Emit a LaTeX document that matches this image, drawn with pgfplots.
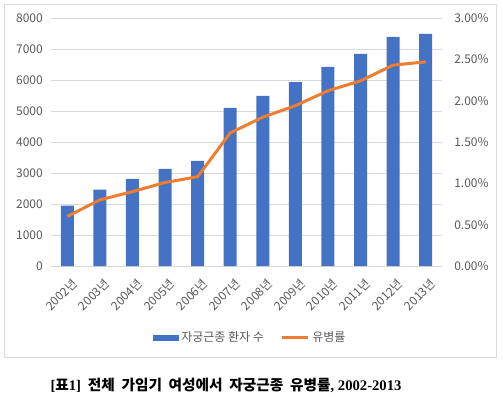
\documentclass[border=0pt]{standalone}
\usepackage{pgfplots}
\pgfplotsset{compat=1.18}
\usepackage{fontspec}
\setmainfont{Noto Sans CJK KR}
\newfontfamily\capserif{Liberation Serif}
\definecolor{barblue}{HTML}{4472C4}
\definecolor{lineorange}{HTML}{ED7D31}
\definecolor{gridgray}{HTML}{D9D9D9}
\definecolor{textgray}{HTML}{595959}
\begin{document}
\begin{tikzpicture}
\path[use as bounding box] (0,0) rectangle (377.25pt,-297.75pt);
\draw[gridgray, line width=0.75pt] (3pt,-3pt) rectangle (372pt,-267.75pt);
\begin{axis}[
  at={(38.25pt,-199.5pt)}, anchor=south west,
  scale only axis, width=293.25pt, height=186pt,
  xmin=-0.5, xmax=11.5, ymin=0, ymax=8000,
  ytick={0,1000,2000,3000,4000,5000,6000,7000,8000},
  yticklabels={0,1000,2000,3000,4000,5000,6000,7000,8000},
  xtick={0,1,2,3,4,5,6,7,8,9,10,11},
  xticklabels={2002년,2003년,2004년,2005년,2006년,2007년,2008년,2009년,2010년,2011년,2012년,2013년},
  axis line style={draw=none}, tick style={draw=none},
  ymajorgrids, grid style={gridgray, line width=0.75pt},
  ticklabel style={font=\fontsize{9}{10}\selectfont, text=textgray},
  yticklabel style={inner xsep=0pt, xshift=-6pt},
  xticklabel style={rotate=45, anchor=east, inner sep=0pt, yshift=-12pt, xshift=-4pt},
  legend style={draw=none, fill=none, at={(0.51,-0.29)}, anchor=center,
    font=\fontsize{9}{10}\selectfont, text=textgray, legend columns=2,
    /tikz/every even column/.append style={column sep=10pt}},
  legend cell align=left,
]
\addplot[ybar, bar width=9.75pt, fill=barblue, draw=none,
  legend image code/.code={\fill[barblue] (0pt,-2.25pt) rectangle (19.5pt,2.25pt);}]
  coordinates {(0,1950) (1,2460) (2,2810) (3,3130) (4,3390) (5,5100) (6,5490) (7,5935) (8,6420) (9,6840) (10,7390) (11,7485)};
\addlegendentry{자궁근종 환자 수}
\addlegendimage{legend image code/.code={\draw[lineorange,line width=2.25pt] (0pt,0pt) -- (20pt,0pt);}}
\addlegendentry{유병률}
\end{axis}
\begin{axis}[
  at={(38.25pt,-199.5pt)}, anchor=south west,
  scale only axis, width=293.25pt, height=186pt,
  xmin=-0.5, xmax=11.5, ymin=0, ymax=3,
  hide x axis, axis y line*=right,
  axis line style={draw=none}, tick style={draw=none},
  ytick={0,0.5,1,1.5,2,2.5,3},
  yticklabels={0.00\%,0.50\%,1.00\%,1.50\%,2.00\%,2.50\%,3.00\%},
  ticklabel style={font=\fontsize{9}{10}\selectfont, text=textgray},
  yticklabel style={inner xsep=0pt, xshift=9pt, anchor=west},
]
\addplot[lineorange, line width=2.25pt, mark=none]
  coordinates {(0,0.60) (1,0.80) (2,0.90) (3,1.01) (4,1.08) (5,1.61) (6,1.80) (7,1.94) (8,2.12) (9,2.24) (10,2.43) (11,2.47)};
\end{axis}
\node[font=\fontsize{11}{13}\selectfont\bfseries] at (169.5pt,-288.75pt)
  {{\capserif [}표{\capserif 1]}\ \ 전체\ \ 가임기\ \ 여성에서\ \ 자궁근종\ \ 유병률{\capserif , 2002-2013}};
\end{tikzpicture}
\end{document}
